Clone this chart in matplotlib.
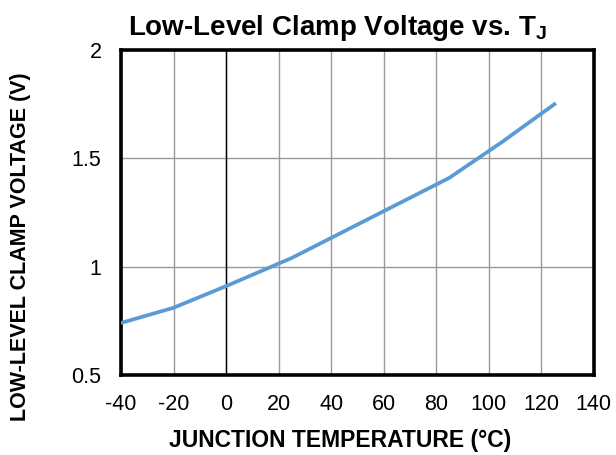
import matplotlib
matplotlib.use("Agg")
import matplotlib.pyplot as plt

plt.rcParams['font.family'] = ['Liberation Sans', 'DejaVu Sans']
plt.rcParams['mathtext.fontset'] = 'custom'
plt.rcParams['mathtext.rm'] = 'Liberation Sans'
plt.rcParams['mathtext.bf'] = 'Liberation Sans:bold'
plt.rcParams['axes.unicode_minus'] = False

# junction temperature (°C) and clamp voltage (V)
temp = [-40, -20, 0, 25, 85, 105, 125]
volt = [0.74, 0.81, 0.91, 1.04, 1.41, 1.575, 1.75]

x_ticks = [-40, -20, 0, 20, 40, 60, 80, 100, 120, 140]
y_ticks = [0.5, 1, 1.5, 2]
y_labels = ["0.5", "1", "1.5", "2"]

fig = plt.figure(figsize=(6.16, 4.55), dpi=100)
ax = fig.add_axes([0.1964, 0.176, 0.7676, 0.714])

ax.set_xlim(-40, 140)
ax.set_ylim(0.5, 2)
ax.set_xticks(x_ticks)
ax.set_yticks(y_ticks)
ax.set_yticklabels(y_labels)
ax.tick_params(length=0, labelsize=15.5)
ax.tick_params(axis="y", pad=14)
ax.tick_params(axis="x", pad=14)

ax.grid(True, color="#999999", linewidth=1.0)
ax.set_axisbelow(True)
ax.axvline(0, color="black", linewidth=1.0, zorder=1.5)

ax.plot(temp, volt, color="#5B9BD5", linewidth=2.7, zorder=3)

for s in ax.spines.values():
    s.set_linewidth(2.6)
    s.set_color("black")

ax.set_title(r"Low-Level Clamp Voltage vs. T$_\mathbf{J}$", fontsize=20,
             fontweight="bold", x=0.457, pad=11)
ax.set_xlabel("JUNCTION TEMPERATURE (°C)", fontsize=16.5, fontweight="bold")
ax.set_ylabel("LOW-LEVEL CLAMP VOLTAGE (V)", fontsize=15.5, fontweight="bold")
ax.xaxis.set_label_coords(0.463, -0.165)
ax.yaxis.set_label_coords(-0.19, 0.394)

fig.savefig("out.png", dpi=100)
